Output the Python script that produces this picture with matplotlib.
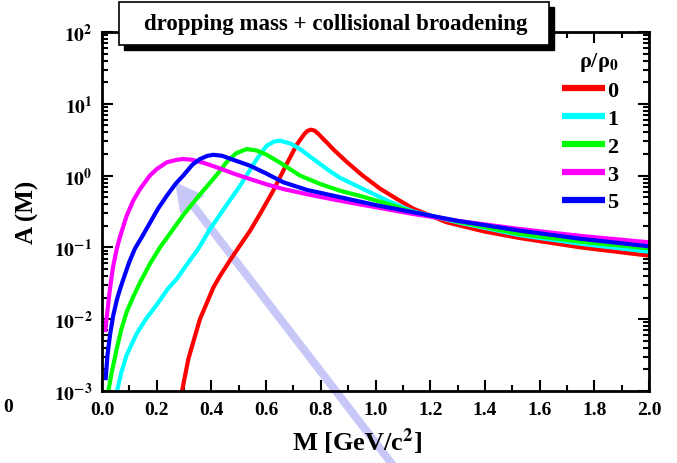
import numpy as np
import matplotlib
matplotlib.use("Agg")
import matplotlib.pyplot as plt
from matplotlib.patches import Rectangle, FancyArrowPatch, ArrowStyle
from matplotlib.ticker import FixedLocator, LogLocator, FuncFormatter, MultipleLocator

# readings: mass M [GeV/c^2] and log10 of A(M)
m_rho0 = [0.29, 0.316, 0.358, 0.407, 0.431, 0.468, 0.498, 0.541, 0.58, 0.626, 0.675, 0.712,
          0.74, 0.752, 0.765, 0.778, 0.79, 0.822, 0.85, 0.895, 0.95, 1.016, 1.08, 1.138, 1.26,
          1.40, 1.528, 1.75, 2.0]
lg_rho0 = [-3.05, -2.55, -2.0, -1.56, -1.40, -1.18, -1.01, -0.77, -0.52, -0.21, 0.16, 0.43,
           0.58, 0.625, 0.64, 0.625, 0.585, 0.46, 0.35, 0.19, 0.01, -0.18, -0.33, -0.46, -0.65,
           -0.78, -0.87, -1.0, -1.115]

m_rho1 = [0.052, 0.07, 0.09, 0.127, 0.16, 0.2, 0.24, 0.273, 0.31, 0.352, 0.395, 0.45, 0.505,
          0.566, 0.602, 0.63, 0.651, 0.69, 0.724, 0.78, 0.834, 0.87, 0.955, 1.05, 1.138, 1.3,
          1.528, 1.75, 2.0]
lg_rho1 = [-3.05, -2.75, -2.50, -2.20, -2.0, -1.80, -1.58, -1.44, -1.24, -1.02, -0.744, -0.44,
           -0.14, 0.231, 0.416, 0.475, 0.486, 0.445, 0.37, 0.21, 0.06, -0.03, -0.187, -0.36,
           -0.50, -0.65, -0.83, -0.95, -1.06]

m_rho2 = [0.021, 0.035, 0.054, 0.07, 0.09, 0.115, 0.139, 0.175, 0.212, 0.25, 0.297, 0.35,
          0.395, 0.43, 0.456, 0.49, 0.529, 0.565, 0.602, 0.651, 0.724, 0.80, 0.87, 0.95, 1.05,
          1.138, 1.3, 1.528, 1.75, 2.0]
lg_rho2 = [-3.05, -2.75, -2.41, -2.15, -1.90, -1.68, -1.49, -1.23, -1.0, -0.80, -0.55, -0.30,
           -0.10, 0.06, 0.19, 0.31, 0.37, 0.35, 0.29, 0.18, 0.0, -0.12, -0.21, -0.29, -0.40,
           -0.51, -0.64, -0.813, -0.92, -1.013]

m_rho3 = [0.011, 0.018, 0.029, 0.04, 0.054, 0.066, 0.09, 0.114, 0.139, 0.175, 0.2, 0.237,
          0.273, 0.297, 0.33, 0.37, 0.419, 0.48, 0.541, 0.6, 0.663, 0.75, 0.87, 1.0, 1.138, 1.3,
          1.528, 1.75, 2.0]
lg_rho3 = [-2.18, -1.95, -1.58, -1.28, -1.02, -0.85, -0.56, -0.35, -0.187, 0.0, 0.09, 0.185,
           0.22, 0.231, 0.22, 0.18, 0.116, 0.03, -0.047, -0.12, -0.187, -0.26, -0.35, -0.44,
           -0.535, -0.63, -0.744, -0.84, -0.929]

m_rho5 = [0.013, 0.02, 0.03, 0.041, 0.055, 0.066, 0.08, 0.1, 0.12, 0.145, 0.175, 0.205, 0.237,
          0.27, 0.297, 0.33, 0.358, 0.385, 0.407, 0.44, 0.48, 0.541, 0.6, 0.663, 0.75, 0.87,
          1.0, 1.138, 1.3, 1.528, 1.75, 2.0]
lg_rho5 = [-2.85, -2.5, -2.2, -1.95, -1.72, -1.58, -1.42, -1.2, -1.02, -0.86, -0.66, -0.46,
           -0.28, -0.11, 0.0, 0.15, 0.23, 0.275, 0.29, 0.275, 0.22, 0.138, 0.03, -0.093, -0.20,
           -0.30, -0.41, -0.51, -0.63, -0.767, -0.88, -0.985]

labels = ["0", "1", "2", "3", "5"]
colors = ["#ff0000", "#00ffff", "#00ff00", "#ff00ff", "#0000ff"]
x_ticks = [0.0, 0.2, 0.4, 0.6, 0.8, 1.0, 1.2, 1.4, 1.6, 1.8, 2.0]
y_decades = [1e-3, 1e-2, 1e-1, 1e0, 1e1, 1e2]
title = "dropping mass + collisional broadening"

plt.rcParams['font.family'] = ['Liberation Serif', 'DejaVu Serif']
plt.rcParams['font.weight'] = 'bold'
plt.rcParams['mathtext.fontset'] = 'stix'

fig = plt.figure(figsize=(6.77, 4.64), dpi=100)
ax = fig.add_axes([102/677, 72/464, 547/677, 359/464])
ax.patch.set_alpha(0)

curves = [(m_rho0, lg_rho0), (m_rho1, lg_rho1), (m_rho2, lg_rho2),
          (m_rho3, lg_rho3), (m_rho5, lg_rho5)]
for (m, lg), lab, col in zip(curves, labels, colors):
  ax.plot(m, np.power(10.0, lg), color=col, lw=3, label=lab,
          solid_capstyle='butt', solid_joinstyle='round')

ax.set_yscale('log')
ax.set_xlim(0, 2.0)
ax.set_ylim(1e-3, 1e2)
ax.xaxis.set_major_locator(FixedLocator(x_ticks))
ax.xaxis.set_minor_locator(MultipleLocator(0.1))
ax.xaxis.set_major_formatter(FuncFormatter(lambda v, p: "%.1f" % v))
ax.yaxis.set_major_locator(FixedLocator(y_decades))
ax.yaxis.set_minor_locator(LogLocator(base=10, subs=np.arange(2, 10)))
ax.yaxis.set_major_formatter(FuncFormatter(lambda v, p: r"$\mathbf{10^{%d}}$" % round(np.log10(v))))
ax.tick_params(which='both', direction='in', top=True, right=True, width=1.5, labelsize=14)
ax.tick_params(which='major', length=8, pad=7)
ax.tick_params(which='minor', length=4)
for s in ax.spines.values():
  s.set_linewidth(2)

ax.set_xlabel("M [GeV/c$^\\mathbf{2}$]", fontsize=19, fontweight='bold')
ax.set_ylabel("A (M)", fontsize=18, fontweight='bold')
ax.xaxis.set_label_coords(0.466, -0.095)
ax.yaxis.set_label_coords(-0.115, 0.5)

leg = ax.legend(loc='upper left', bbox_to_anchor=(5.62, 4.13), bbox_transform=fig.dpi_scale_trans,
                frameon=False, fontsize=16, handlelength=1.95, handletextpad=0.1,
                labelspacing=0.33, borderpad=0, borderaxespad=0,
                title="ρ/ρ$_\\mathbf{0}$", title_fontproperties={'size': 16, 'weight': 'bold'},
                alignment='right')
for h in leg.get_lines():
  h.set_linewidth(4.5)

# title box with drop shadow
sh = Rectangle((1.24, 4.133), 4.30, 0.43, transform=fig.dpi_scale_trans,
               facecolor='black', edgecolor='black', zorder=10)
bx = Rectangle((1.19, 4.183), 4.30, 0.43, transform=fig.dpi_scale_trans,
               facecolor='white', edgecolor='black', lw=1.2, zorder=11)
fig.patches.extend([sh, bx])
fig.text(3.36, 4.395, title, transform=fig.dpi_scale_trans, ha='center', va='center',
         fontsize=16.5, fontweight='bold', zorder=12)

arrow = FancyArrowPatch((3.95, -0.05), (1.75, 2.81), transform=fig.dpi_scale_trans,
                        arrowstyle=ArrowStyle.Simple(head_length=1.03, head_width=1.1, tail_width=0.29),
                        mutation_scale=20, shrinkA=0, shrinkB=0,
                        color='#c8c8f8', lw=0, zorder=-1)
fig.patches.append(arrow)

fig.text(0.08, 0.56, "0", transform=fig.dpi_scale_trans, ha='center', va='center', fontsize=14)

fig.savefig("out.png", dpi=100)
